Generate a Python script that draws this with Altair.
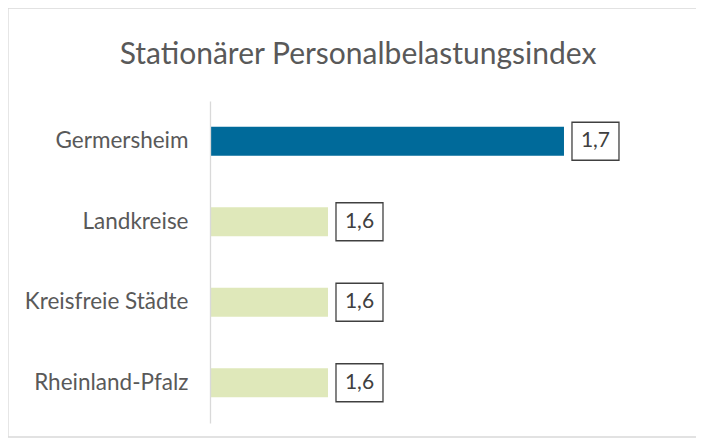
import altair as alt
import pandas as pd

categories = ["Germersheim", "Landkreise", "Kreisfreie Städte", "Rheinland-Pfalz"]
values = [1.70, 1.60, 1.60, 1.60]
labels = ["1,7", "1,6", "1,6", "1,6"]
groups = ["hl", "ref", "ref", "ref"]

df = pd.DataFrame({"cat": categories, "val": values, "lab": labels, "grp": groups})

FONT = "Lato"
x_scale = alt.Scale(domain=[1.55, 1.7534], nice=False, zero=False)
y_enc = alt.Y("cat:N", sort=categories,
              scale=alt.Scale(paddingInner=0.64, paddingOuter=0.32),
              axis=alt.Axis(title=None, ticks=False, labelPadding=22, labelFontSize=22.5,
                            labelColor="#595959", labelFont=FONT, domainColor="#d9d9d9",
                            domainWidth=1.3, zindex=1))

base = alt.Chart(df)

bars = base.mark_bar(clip=True).encode(
    x=alt.X("val:Q", scale=x_scale, axis=None),
    y=y_enc,
    color=alt.Color("grp:N", scale=alt.Scale(domain=["hl", "ref"], range=["#006A9A", "#DFE8BA"]), legend=None),
)

boxes = base.mark_bar(height=38, xOffset=8, x2Offset=55, fill="white", stroke="#404040",
                      strokeWidth=1.3, cornerRadius=0).encode(
    x=alt.X("val:Q", scale=x_scale, axis=None),
    x2="val:Q",
    y=alt.Y("cat:N", sort=categories),
)

texts = base.mark_text(align="center", baseline="middle", dx=31.5, fontSize=21, font=FONT,
                       color="#404040").encode(
    x=alt.X("val:Q", scale=x_scale, axis=None),
    y=alt.Y("cat:N", sort=categories),
    text="lab:N",
)

frame = alt.Chart(pd.DataFrame({"a": [0]})).mark_rect(fill=None, stroke="#d9d9d9", strokeWidth=1.3).encode(
    x=alt.value(-202), x2=alt.value(487), y=alt.value(-93), y2=alt.value(336)
)

chart = alt.layer(bars, boxes, texts, frame).properties(
    width=480, height=322,
    title=alt.TitleParams("Stationärer Personalbelastungsindex", fontSize=30, font=FONT,
                          fontWeight="normal", color="#595959", anchor="middle", dx=-92, offset=-63),
    autosize=alt.AutoSizeParams(type="none"),
    padding={"left": 202, "top": 93, "right": 6, "bottom": 15},
).configure(background="white").configure_view(stroke=None)

chart.save("out.html", embed_options={"renderer": "svg", "actions": False})
